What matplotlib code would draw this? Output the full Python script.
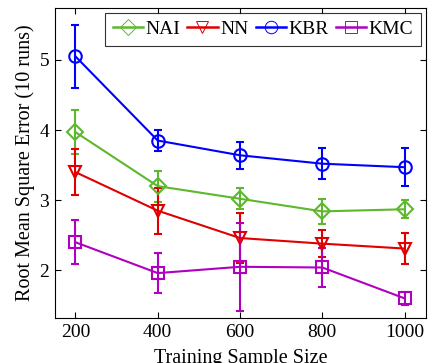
import matplotlib
matplotlib.use("Agg")
import matplotlib.pyplot as plt
from matplotlib.lines import Line2D

sizes = [200, 400, 600, 800, 1000]
nai = [3.97, 3.20, 3.02, 2.84, 2.87]
nai_err = [0.31, 0.22, 0.15, 0.18, 0.13]
nn = [3.40, 2.85, 2.46, 2.38, 2.31]
nn_err = [0.33, 0.33, 0.36, 0.19, 0.22]
kbr = [5.05, 3.85, 3.64, 3.52, 3.47]
kbr_err = [0.45, 0.15, 0.19, 0.22, 0.27]
kmc = [2.40, 1.96, 2.05, 2.04, 1.60]
kmc_err = [0.31, 0.29, 0.63, 0.28, 0.09]

plt.rcParams['font.family'] = ['Liberation Serif', 'DejaVu Serif']
fig = plt.figure(figsize=(4.32, 3.63), dpi=100)
ax = fig.add_axes([0.127, 0.124, 0.859, 0.854])

series = [
    ("NAI", nai, nai_err, "#5db82e", "D"),
    ("NN", nn, nn_err, "#e00000", "v"),
    ("KBR", kbr, kbr_err, "#0000ff", "o"),
    ("KMC", kmc, kmc_err, "#b000c0", "s"),
]
handles = []
for name, vals, errs, col, mk in series:
    ms = 9 if mk != "D" else 8
    ax.errorbar(sizes, vals, yerr=errs, color=col, marker=mk, markersize=ms,
                markerfacecolor="none", markeredgecolor=col, markeredgewidth=1.5,
                linewidth=1.5, elinewidth=1.5, capsize=3, capthick=1.5)
    handles.append(Line2D([], [], color=col, marker=mk, markersize=ms,
                          markerfacecolor="none", markeredgecolor=col,
                          markeredgewidth=0.7, linewidth=1.8, label=name))

ax.set_xlim(150, 1052)
ax.set_ylim(1.32, 5.74)
ax.set_xticks(sizes)
ax.set_yticks([2, 3, 4, 5])
ax.tick_params(direction="in", top=True, right=True, labelsize=14, length=4, pad=4)
ax.set_xlabel("Training Sample Size", fontsize=14.5, labelpad=6)
ax.set_ylabel("Root Mean Square Error (10 runs)", fontsize=14.5, labelpad=3)
for s in ax.spines.values():
    s.set_linewidth(0.8)

leg = ax.legend(handles=handles, loc="upper right", ncol=4, fontsize=14, frameon=True,
                fancybox=False, edgecolor="black", handlelength=1.55, handletextpad=0.15,
                columnspacing=0.35, borderpad=0.4, borderaxespad=0.25)
leg.get_frame().set_linewidth(0.8)

fig.savefig("out.png", dpi=100)
